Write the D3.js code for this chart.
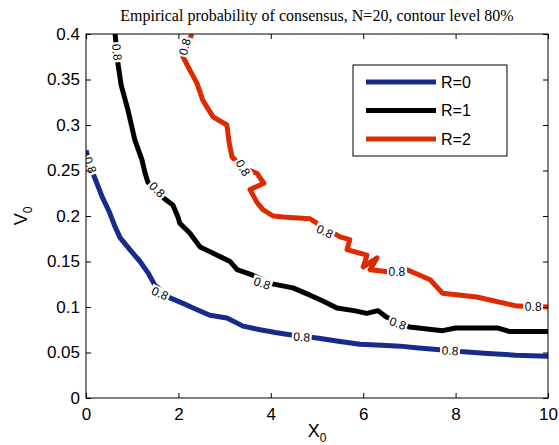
<!DOCTYPE html>
<meta charset="utf-8">
<script src="https://d3js.org/d3.v7.min.js"></script>
<style>
body { margin: 0; background: #fff; }
text { font-family: "Liberation Sans", Arial, sans-serif; fill: #000; }
.title { font-family: "Liberation Serif", "DejaVu Serif", serif; font-size: 16px; }
.tick text { font-size: 16px; }
.clabel { font-size: 12px; }
</style>
<body>
<script>

// series: contour lines at level 0.8
var r0X = [0, 0.15, 0.35, 0.5, 0.63, 0.74, 0.95, 1.17, 1.35, 1.49, 1.82, 2.1, 2.32, 2.68, 3.05, 3.4, 3.77, 4.1, 4.48, 5.0, 5.5, 5.93, 6.4, 6.8, 7.2, 7.66, 8.1, 8.7, 9.3, 10];
var r0Y = [0.272, 0.247, 0.221, 0.205, 0.188, 0.176, 0.163, 0.150, 0.137, 0.124, 0.110, 0.104, 0.099, 0.091, 0.088, 0.079, 0.075, 0.072, 0.069, 0.066, 0.062, 0.059, 0.058, 0.057, 0.055, 0.053, 0.051, 0.049, 0.047, 0.046];

var r1X = [0.63, 0.69, 0.76, 0.91, 1.06, 1.21, 1.28, 1.34, 1.67, 1.88, 1.99, 2.03, 2.25, 2.47, 2.84, 3.12, 3.27, 3.61, 3.98, 4.48, 4.85, 5.15, 5.43, 5.8, 6.08, 6.32, 6.5, 7.0, 7.72, 8.0, 8.9, 9.17, 10];
var r1Y = [0.4, 0.368, 0.344, 0.316, 0.283, 0.262, 0.247, 0.237, 0.22, 0.212, 0.199, 0.192, 0.181, 0.166, 0.157, 0.150, 0.141, 0.135, 0.126, 0.121, 0.113, 0.106, 0.099, 0.096, 0.093, 0.096, 0.089, 0.078, 0.074, 0.077, 0.077, 0.073, 0.073];

var r2X = [2.29, 2.1, 2.25, 2.4, 2.53, 2.75, 3.05, 3.1, 3.16, 3.4, 3.7, 3.85, 3.55, 3.7, 3.83, 4.05, 4.26, 4.85, 5.06, 5.5, 5.71, 5.65, 6.08, 6.0, 6.3, 6.15, 6.5, 6.95, 7.45, 7.72, 8.46, 9.33, 10];
var r2Y = [0.4, 0.375, 0.36, 0.346, 0.327, 0.309, 0.300, 0.28, 0.265, 0.253, 0.247, 0.236, 0.229, 0.215, 0.207, 0.2, 0.199, 0.197, 0.19, 0.177, 0.174, 0.163, 0.157, 0.144, 0.154, 0.141, 0.139, 0.141, 0.130, 0.115, 0.111, 0.101, 0.100];

// inline contour labels (x, y, angle)
var r0Lab = [[0.09, 0.256, 70], [1.6, 0.115, 25], [4.67, 0.067, 5], [7.88, 0.052, 3]];
var r1Lab = [[0.67, 0.380, 85], [1.54, 0.229, 45], [3.81, 0.126, 20], [6.75, 0.082, 20]];
var r2Lab = [[2.14, 0.386, -75], [3.4, 0.253, 60], [5.17, 0.183, 25], [6.73, 0.139, 0], [9.68, 0.1, 0]];

var names = ["R=0", "R=1", "R=2"];
var colors = ["#182b8c", "#000000", "#dd2a00"];

var xTicks = [0, 2, 4, 6, 8, 10];
var yTicks = [0, 0.05, 0.1, 0.15, 0.2, 0.25, 0.3, 0.35, 0.4];

var series = [
  {name: names[0], color: colors[0], pts: d3.zip(r0X, r0Y), labels: r0Lab},
  {name: names[1], color: colors[1], pts: d3.zip(r1X, r1Y), labels: r1Lab},
  {name: names[2], color: colors[2], pts: d3.zip(r2X, r2Y), labels: r2Lab}
];

var W = 559, H = 445;
var margin = {top: 34, right: 11, bottom: 47, left: 86};
var width = W - margin.left - margin.right;
var height = H - margin.top - margin.bottom;

var svg = d3.select("body").append("svg")
    .attr("width", W)
    .attr("height", H);

var g = svg.append("g")
    .attr("transform", "translate(" + margin.left + "," + margin.top + ")");

var x = d3.scaleLinear().domain([0, 10]).range([0, width]);
var y = d3.scaleLinear().domain([0, 0.4]).range([height, 0]);

svg.append("defs").append("clipPath").attr("id", "clip")
  .append("rect").attr("width", width).attr("height", height);

var line = d3.line()
    .x(function(d) { return x(d[0]); })
    .y(function(d) { return y(d[1]); });

var plot = g.append("g").attr("clip-path", "url(#clip)");

series.forEach(function(s) {
  plot.append("path")
      .datum(s.pts)
      .attr("fill", "none")
      .attr("stroke", s.color)
      .attr("stroke-width", 5)
      .attr("stroke-linejoin", "round")
      .attr("d", line);
});

// contour labels with white gap behind them
series.forEach(function(s) {
  var lab = plot.selectAll(null)
      .data(s.labels)
    .enter().append("g")
      .attr("transform", function(d) {
        return "translate(" + x(d[0]) + "," + y(d[1]) + ") rotate(" + d[2] + ")";
      });
  lab.append("rect")
      .attr("x", -10).attr("y", -6)
      .attr("width", 20).attr("height", 12)
      .attr("fill", "#fff");
  lab.append("text")
      .attr("class", "clabel")
      .attr("text-anchor", "middle")
      .attr("dy", "0.35em")
      .text("0.8");
});

// axes with inward ticks on all four sides
g.append("g")
    .attr("class", "tick")
    .attr("transform", "translate(0," + height + ")")
    .call(d3.axisBottom(x).tickValues(xTicks).tickSize(-5).tickPadding(10).tickFormat(d3.format("d")))
    .call(function(a) { a.select(".domain").remove(); });

g.append("g")
    .attr("class", "tick")
    .call(d3.axisLeft(y).tickValues(yTicks).tickSize(-5).tickPadding(6).tickFormat(function(d) { return d === 0 ? "0" : String(+d.toFixed(2)); }))
    .call(function(a) { a.select(".domain").remove(); });

g.append("g")
    .call(d3.axisTop(x).tickValues(xTicks).tickSize(-5).tickFormat(""))
    .call(function(a) { a.select(".domain").remove(); });

g.append("g")
    .attr("transform", "translate(" + width + ",0)")
    .call(d3.axisRight(y).tickValues(yTicks).tickSize(-5).tickFormat(""))
    .call(function(a) { a.select(".domain").remove(); });

g.selectAll(".tick line").attr("stroke", "#000");
g.selectAll(".tick text").style("font-size", "17px").attr("fill", "#000");

g.append("rect")
    .attr("width", width).attr("height", height)
    .attr("fill", "none").attr("stroke", "#000").attr("stroke-width", 1);

// title
svg.append("text")
    .attr("class", "title")
    .attr("x", margin.left + width / 2)
    .attr("y", 21)
    .attr("text-anchor", "middle")
    .text("Empirical probability of consensus, N=20, contour level 80%");

// axis labels
var xl = svg.append("text")
    .attr("x", margin.left + width / 2)
    .attr("y", 437)
    .attr("text-anchor", "middle")
    .style("font-size", "18px");
xl.append("tspan").text("X");
xl.append("tspan").attr("dy", 5).style("font-size", "12px").text("0");

var yl = svg.append("text")
    .attr("transform", "translate(27," + (margin.top + height / 2) + ") rotate(-90)")
    .attr("text-anchor", "middle")
    .style("font-size", "18px");
yl.append("tspan").text("V");
yl.append("tspan").attr("dy", 5).style("font-size", "12px").text("0");

// legend
var leg = svg.append("g").attr("transform", "translate(353,65)");
leg.append("rect")
    .attr("width", 154).attr("height", 91)
    .attr("fill", "#fff").attr("stroke", "#000");
var item = leg.selectAll(null)
    .data(series)
  .enter().append("g")
    .attr("transform", function(d, i) { return "translate(0," + (17 + i * 28.5) + ")"; });
item.append("line")
    .attr("x1", 13).attr("x2", 83)
    .attr("stroke", function(d) { return d.color; })
    .attr("stroke-width", 5);
item.append("text")
    .attr("x", 88)
    .attr("dy", "0.35em")
    .style("font-size", "16px")
    .text(function(d) { return d.name; });

</script>
</body>
